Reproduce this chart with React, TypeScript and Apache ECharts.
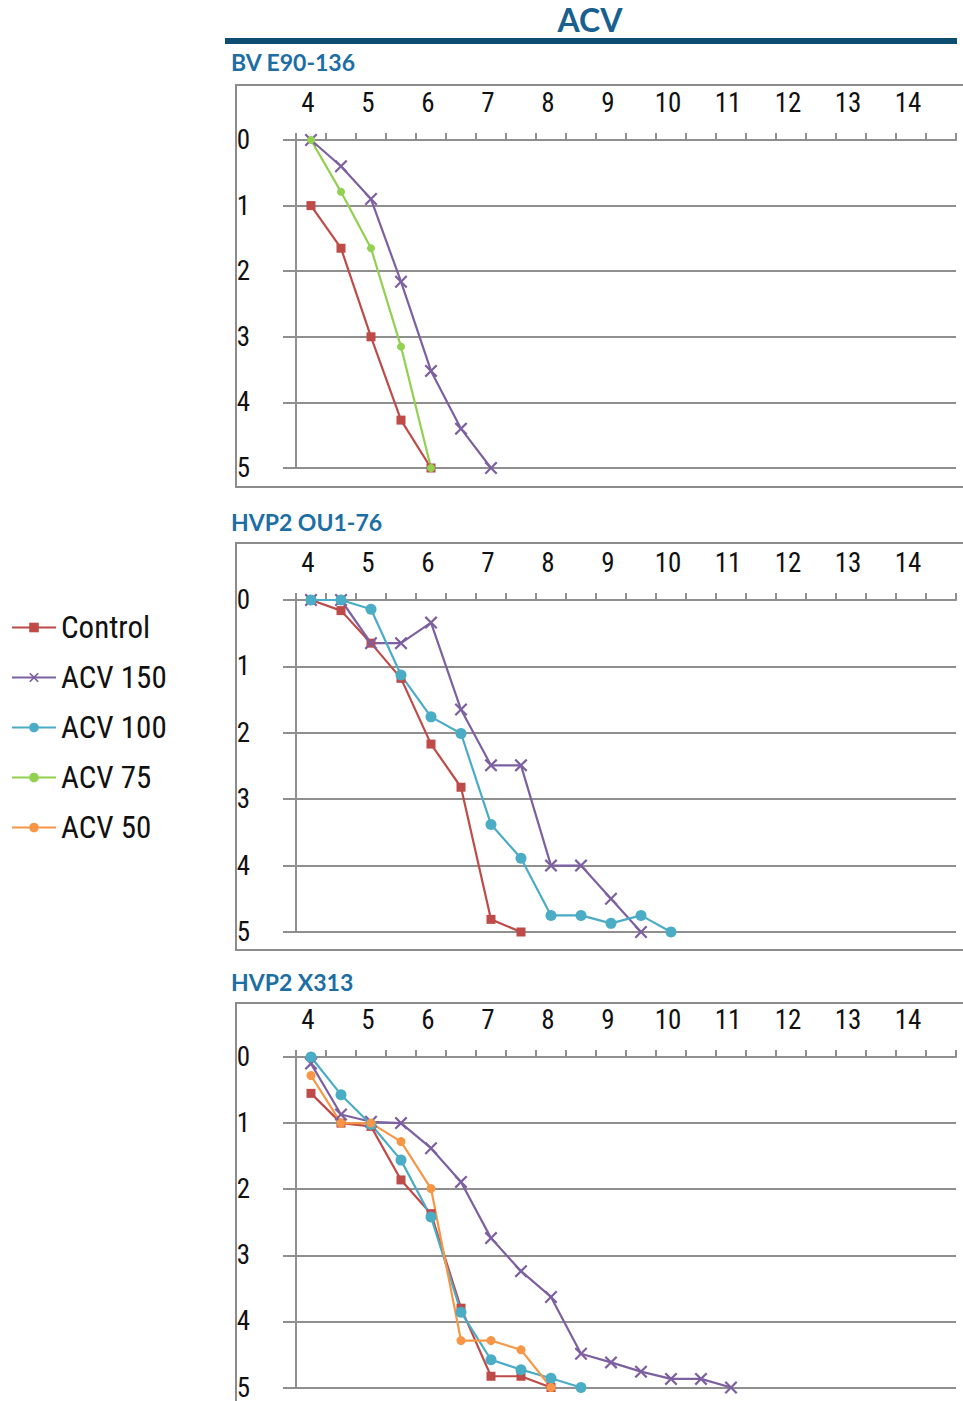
import React, { useEffect, useRef } from "react";
import * as echarts from "echarts";

// x categories (days), labels shown for integers only
const xCats = ["4", "4.5", "5", "5.5", "6", "6.5", "7", "7.5", "8", "8.5", "9", "9.5", "10", "10.5", "11", "11.5", "12", "12.5", "13", "13.5", "14", "14.5"];
const yTicks = [0, 1, 2, 3, 4, 5];

const seriesNames = ["Control", "ACV 150", "ACV 100", "ACV 75", "ACV 50"];
const panelTitles = ["BV E90-136", "HVP2 OU1-76", "HVP2 X313"];

// Panel 1: BV E90-136 (values start at day 4)
const bvControl = [1.0, 1.65, 3.0, 4.27, 5.0];
const bvAcv150 = [0, 0.4, 0.9, 2.16, 3.52, 4.4, 5.0];
const bvAcv75 = [0, 0.79, 1.65, 3.15, 5.0];

// Panel 2: HVP2 OU1-76
const ouControl = [0, 0.16, 0.65, 1.18, 2.17, 2.82, 4.81, 5.0];
const ouAcv150 = [0, 0, 0.65, 0.65, 0.34, 1.65, 2.49, 2.49, 4.0, 4.0, 4.5, 5.0];
const ouAcv100 = [0, 0, 0.14, 1.13, 1.76, 2.01, 3.38, 3.89, 4.75, 4.75, 4.87, 4.75, 5.0];

// Panel 3: HVP2 X313
const xControl = [0.55, 1.0, 1.05, 1.86, 2.37, 3.8, 4.83, 4.83, 5.0];
const xAcv150 = [0.1, 0.87, 0.98, 1.0, 1.38, 1.89, 2.74, 3.24, 3.63, 4.49, 4.62, 4.76, 4.87, 4.87, 5.0];
const xAcv100 = [0, 0.57, 1.02, 1.56, 2.42, 3.86, 4.58, 4.73, 4.86, 5.0];
const xAcv50 = [0.28, 1.0, 1.0, 1.28, 1.99, 4.29, 4.29, 4.43, 5.0];

const COLORS: Record<string, string> = {
  Control: "#BE4B48",
  "ACV 150": "#7D60A0",
  "ACV 100": "#4BACC6",
  "ACV 75": "#92D050",
  "ACV 50": "#F79646",
};

const XMARK = "path://M0,1.2 L1.2,0 L5,3.8 L8.8,0 L10,1.2 L6.2,5 L10,8.8 L8.8,10 L5,6.2 L1.2,10 L0,8.8 L3.8,5 Z";
const SYMBOLS: Record<string, [string, number]> = {
  Control: ["rect", 9],
  "ACV 150": [XMARK, 13],
  "ACV 100": ["circle", 11],
  "ACV 75": ["circle", 8],
  "ACV 50": ["circle", 9],
};

const NARROW = '"Liberation Sans Narrow", "Arial Narrow", "Roboto Condensed", "Liberation Sans", sans-serif';
const GRAY = "#8f8f8f";

const panels = [
  { top: 140, height: 328, frameTop: 85, frameH: 402, titleTop: 50, series: [["Control", bvControl], ["ACV 150", bvAcv150], ["ACV 75", bvAcv75]] },
  { top: 600, height: 332, frameTop: 543, frameH: 407, titleTop: 510, series: [["Control", ouControl], ["ACV 150", ouAcv150], ["ACV 100", ouAcv100]] },
  { top: 1057, height: 331, frameTop: 1003, frameH: 420, titleTop: 970, series: [["Control", xControl], ["ACV 150", xAcv150], ["ACV 100", xAcv100], ["ACV 50", xAcv50]] },
];

export default function App() {
  const ref = useRef<HTMLDivElement>(null);
  useEffect(() => {
    document.body.style.margin = "0";
    if (!ref.current) return;
    const chart = echarts.init(ref.current, null, { renderer: "svg" });

    const grids = panels.map((p) => ({ left: 296, width: 660, top: p.top, height: p.height }));
    const xAxes = panels.map((p, i) => ({
      type: "category",
      gridIndex: i,
      position: "top",
      data: xCats,
      boundaryGap: true,
      axisLine: { show: true, lineStyle: { color: GRAY, width: 2 } },
      axisTick: { show: true, interval: 0, length: 7, lineStyle: { color: GRAY, width: 2 } },
      axisLabel: { interval: 1, margin: 24, fontSize: 27, fontFamily: NARROW, color: "#111", padding: [0, 6, 0, 0] },
      splitLine: { show: false },
    }));
    const yAxes = panels.map((p, i) => ({
      type: "value",
      gridIndex: i,
      inverse: true,
      min: yTicks[0],
      max: yTicks[yTicks.length - 1],
      interval: 1,
      axisLine: { show: true, lineStyle: { color: GRAY, width: 2 } },
      axisTick: { show: true, length: 13, lineStyle: { color: GRAY, width: 2 } },
      axisLabel: { margin: 46, fontSize: 27, fontFamily: NARROW, color: "#111", align: "right" },
      splitLine: { show: true, lineStyle: { color: GRAY, width: 2 } },
    }));

    const series: any[] = [];
    panels.forEach((p, i) => {
      p.series.forEach(([name, data]) => {
        const n = name as string;
        series.push({
          type: "line",
          name: n,
          xAxisIndex: i,
          yAxisIndex: i,
          data: data as number[],
          symbol: SYMBOLS[n][0],
          symbolSize: SYMBOLS[n][1],
          showAllSymbol: true,
          lineStyle: { color: COLORS[n], width: 2.2 },
          itemStyle: { color: COLORS[n] },
        });
      });
    });

    const graphics: any[] = [
      { type: "rect", shape: { x: 225, y: 38, width: 732, height: 6 }, style: { fill: "#0E4D72" } },
    ];
    panels.forEach((p) => {
      graphics.push({
        type: "rect",
        shape: { x: 236, y: p.frameTop, width: 740, height: p.frameH },
        style: { fill: "none", stroke: "#8c8c8c", lineWidth: 2 },
        z: -1,
      });
    });

    const titles: any[] = [
      {
        text: "ACV",
        left: 590,
        top: 3,
        textAlign: "center",
        padding: 0,
        textStyle: { fontFamily: "Lato, sans-serif", fontWeight: "bold", fontSize: 32, color: "#17608F" },
      },
      ...panels.map((p, i) => ({
        text: panelTitles[i],
        left: 231,
        top: p.titleTop,
        padding: 0,
        textStyle: { fontFamily: "Lato, sans-serif", fontWeight: "bold", fontSize: 23, color: "#1C6EA4" },
      })),
    ];

    chart.setOption({
      animation: false,
      title: titles,
      legend: {
        data: seriesNames,
        orient: "vertical",
        left: 6,
        top: 607,
        itemWidth: 44,
        itemHeight: 12,
        itemGap: 19,
        textStyle: { fontSize: 31, fontFamily: NARROW, color: "#111" },
      },
      grid: grids,
      xAxis: xAxes,
      yAxis: yAxes,
      series,
      graphic: graphics,
    });
    return () => chart.dispose();
  }, []);
  return <div ref={ref} style={{ width: 963, height: 1401 }} />;
}
